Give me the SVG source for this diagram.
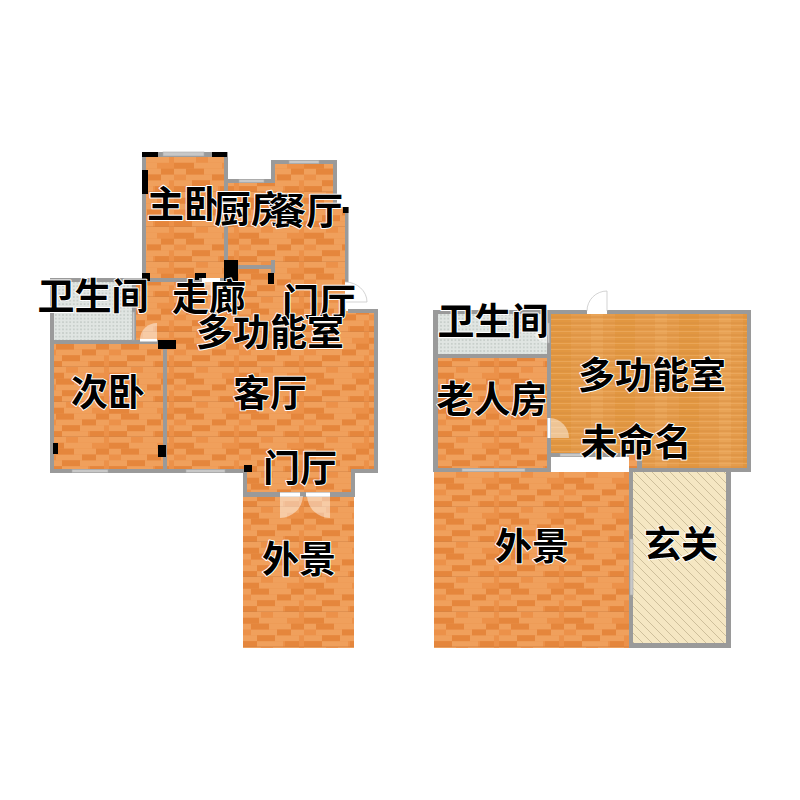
<svg xmlns="http://www.w3.org/2000/svg" width="800" height="800" viewBox="0 0 800 800">
<style>
.wood{fill:url(#wood)}.maple{fill:url(#maple)}.tile{fill:url(#dots)}.hatch{fill:url(#hatch)}
.wall{fill:#9a9a9a}.win{fill:#c8c8c8;stroke:#a8a8a8;stroke-width:.6}.post{fill:#000}
.door{fill:#fff;fill-opacity:.45}.jamb{fill:#fff}.swing{fill:none;stroke:#c8c8c8;stroke-width:.8}
text{font-family:"Noto Sans CJK SC","Noto Sans",sans-serif;font-size:37px;font-weight:700;text-anchor:middle;fill:#000;stroke:#fff;stroke-width:2px;paint-order:stroke;stroke-linejoin:round}
</style>
<defs>
<pattern id="wood" patternUnits="userSpaceOnUse" width="65" height="35" x="434" y="472">
<rect width="65" height="35" fill="#ec9149"/>
<g fill="#f0a05c">
<rect x="0" y="0" width="22" height="5.8"/><rect x="34" y="0" width="26" height="5.800"/>
<rect x="20" y="5.8" width="28" height="5.800"/>
<rect x="0" y="11.7" width="12" height="5.800"/><rect x="30" y="11.7" width="22" height="5.800"/>
<rect x="12" y="17.5" width="26" height="5.800"/><rect x="52" y="17.5" width="13" height="5.800"/>
<rect x="0" y="23.3" width="18" height="5.800"/><rect x="36" y="23.3" width="24" height="5.800"/>
<rect x="18" y="29.2" width="26" height="5.800"/>
</g>
<g fill="#e5863c">
<rect x="0" y="5.8" width="20" height="5.800"/>
<rect x="12" y="11.7" width="18" height="5.800"/><rect x="52" y="11.7" width="13" height="5.800"/>
<rect x="38" y="17.5" width="14" height="5.800"/>
<rect x="18" y="23.3" width="18" height="5.800"/>
<rect x="0" y="29.2" width="18" height="5.800"/><rect x="46" y="29.2" width="14" height="5.800"/>
</g>
<rect y="34.500" width="65" height=".5" fill="#d08245"/>
</pattern>
<pattern id="maple" patternUnits="userSpaceOnUse" width="64" height="6" x="551" y="314">
<rect width="64" height="6" fill="#e59c4c"/>
<rect width="20" height="6" fill="#e1963f" opacity=".8"/>
<rect x="40" width="12" height="6" fill="#eaa65a" opacity=".8"/>
<rect y="2.6" width="64" height=".9" fill="#d98f40"/>
<rect y="5.4" width="64" height=".6" fill="#eeae66"/>
</pattern>
<pattern id="dots" patternUnits="userSpaceOnUse" width="3.6" height="3.6">
<rect width="3.6" height="3.6" fill="#e0e5e2"/><circle cx="1.8" cy="1.8" r=".75" fill="#a9b4af"/>
</pattern>
<pattern id="hatch" patternUnits="userSpaceOnUse" width="9" height="9">
<rect width="9" height="9" fill="#f5e7c3"/><path d="M-1,-1L10,10M-1,8L1,10M8,-1L10,1" stroke="#bdae8a" stroke-width=".7"/>
</pattern>
</defs>
<rect width="800" height="800" fill="#fff"/>

<g id="floors">
<path class="wood" d="M145,156H225V181H273V162H335V207H346V311H376V471H353V495H245V471H52V342H136V280H145Z"/>
<rect class="wood" x="243" y="495" width="111" height="153"/>
<rect class="tile" x="52" y="281" width="82" height="61"/>
<rect class="tile" x="436" y="312" width="113" height="44"/>
<rect class="wood" x="436" y="356" width="113" height="114"/>
<path class="maple" d="M549,312H749V470H633V455H549Z"/>
<rect class="wood" x="629" y="455" width="8" height="15"/>
<rect x="551" y="457" width="78" height="15" fill="#fff"/>
<rect class="wood" x="434" y="472" width="195" height="176"/>
<rect class="hatch" x="631" y="470" width="97" height="176"/>
</g>

<g id="walls" class="wall">
<rect x="142" y="152" width="85" height="5"/>
<rect x="142" y="152" width="4" height="130"/>
<rect x="224" y="152" width="4" height="130"/>
<rect x="224" y="179" width="51" height="4"/>
<rect x="271" y="160" width="4" height="23"/>
<rect x="271" y="160" width="66" height="4"/>
<rect x="333" y="160" width="4" height="47"/>
<rect x="345" y="207" width="3.500" height="75"/>
<rect x="348" y="309" width="30" height="4"/>
<rect x="374" y="309" width="4" height="164"/>
<rect x="50" y="278" width="174" height="4"/>
<rect x="50" y="278" width="4" height="195"/>
<rect x="50" y="340" width="108" height="4"/>
<rect x="132" y="282" width="4" height="60"/>
<rect x="163" y="344" width="4" height="129"/>
<rect x="50" y="469" width="197" height="4"/>
<rect x="243" y="469" width="4" height="28"/>
<rect x="243" y="492" width="112" height="5"/>
<rect x="351" y="469" width="4" height="28"/>
<rect x="351" y="469" width="27" height="4"/>
<rect x="238" y="265" width="37" height="4"/>
<rect x="271" y="260" width="4" height="13"/>
<rect x="433" y="310" width="318" height="4"/>
<rect x="433" y="310" width="5" height="162"/>
<rect x="438" y="354" width="110" height="4"/>
<rect x="547" y="310" width="4" height="162"/>
<rect x="433" y="468" width="118" height="4"/>
<rect x="551" y="453" width="78" height="4"/>
<rect x="747" y="310" width="4" height="162"/>
<rect x="629" y="468" width="122" height="4"/>
<rect x="637" y="457" width="5" height="12"/>
<rect x="629" y="468" width="4" height="180"/>
<rect x="726" y="468" width="5" height="180"/>
<rect x="629" y="643" width="102" height="5"/>
</g>

<g id="windows">
<rect class="win" x="163" y="152" width="41" height="4"/>
<rect class="win" x="239" y="179.500" width="25" height="3"/>
<rect class="win" x="289" y="160.500" width="30" height="3"/>
<rect class="win" x="72" y="469.500" width="36" height="3"/>
<rect class="win" x="186" y="469.500" width="39" height="3"/>
<rect class="win" x="462" y="468.500" width="63" height="3"/>
<rect class="win" x="560" y="453.500" width="22" height="3"/>
<rect class="win" x="630" y="539" width="3" height="56"/>
<rect class="win" x="132.500" y="312" width="2" height="28"/>
<rect class="win" x="547.500" y="323" width="2" height="20"/>
</g>

<g id="doors">
<rect class="jamb" x="202" y="278" width="18" height="4"/>
<path class="door" d="M203,282H219V298A16,16 0 0 1 203,282Z"/>
<rect class="jamb" x="140" y="339" width="17" height="2.500"/>
<path class="door" d="M140,339A17,17 0 0 1 157,323V339Z"/>
<rect x="345" y="282" width="3.500" height="27" fill="#fff"/>
<path class="swing" d="M345,282A22,20 0 0 1 367,302H345"/>
<rect class="jamb" x="280" y="492.500" width="20" height="4"/>
<rect class="jamb" x="306" y="492.500" width="24" height="4"/>
<path class="door" d="M280,496H303A23,23 0 0 1 280,518Z"/>
<path class="door" d="M330,496H307A23,23 0 0 0 330,518Z"/>
<rect class="jamb" x="587" y="310" width="20" height="4"/>
<path class="swing" d="M607,291A20,20 0 0 0 587,311M607,291V311"/>
<rect class="jamb" x="547.500" y="418" width="2.500" height="20"/>
<path class="door" d="M550,418A20,20 0 0 1 569,438H550Z"/>
<path class="door" d="M547,325V343A18,18 0 0 1 534,335Z"/>
</g>

<g id="posts" class="post">
<rect x="142" y="152" width="16" height="5"/>
<rect x="212" y="152" width="15" height="5"/>
<rect x="142" y="170" width="6" height="24"/>
<rect x="142" y="273" width="8" height="8"/>
<rect x="195" y="273" width="11" height="5"/>
<rect x="195" y="273" width="4" height="7"/>
<rect x="224" y="260" width="14" height="22"/>
<rect x="268" y="273" width="6" height="11"/>
<rect x="343" y="207" width="5.500" height="6"/>
<rect x="158" y="340" width="18" height="9"/>
<rect x="158" y="445" width="8" height="12"/>
<rect x="53" y="443" width="5" height="11"/>
<rect x="244" y="465" width="8" height="7"/>
</g>

<g id="labels">
<text x="184" y="218">主卧</text>
<text x="251" y="223">厨房</text>
<text x="306" y="225">餐厅</text>
<text x="93" y="310">卫生间</text>
<text x="209" y="311">走廊</text>
<text x="319" y="316">门厅</text>
<text x="270" y="346">多功能室</text>
<text x="108" y="406">次卧</text>
<text x="270" y="407">客厅</text>
<text x="300" y="482">门厅</text>
<text x="299" y="573">外景</text>
<text x="493" y="335">卫生间</text>
<text x="652" y="389">多功能室</text>
<text x="492" y="413">老人房</text>
<text x="636" y="456">未命名</text>
<text x="532" y="560">外景</text>
<text x="681" y="558">玄关</text>
</g>
</svg>
